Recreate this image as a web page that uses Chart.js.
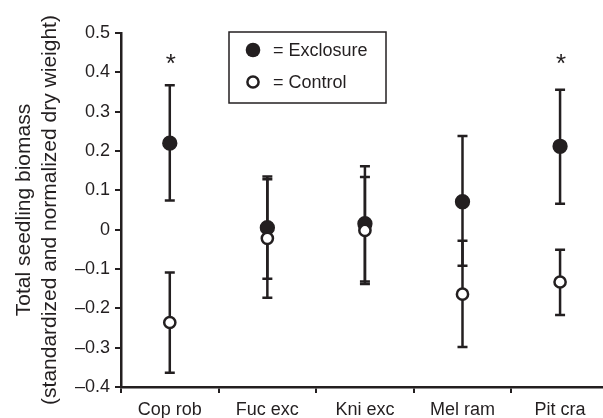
<!DOCTYPE html>
<html>
<head>
<meta charset="utf-8">
<script src="https://cdn.jsdelivr.net/npm/chart.js@4"></script>
<style>
  html, body { margin: 0; padding: 0; background: #fff; }
  #wrap { width: 603px; height: 418px; position: relative; }
</style>
</head>
<body>
<div id="wrap"><canvas id="chart"></canvas></div>
<script>
// ===== DATA =====
const species = ['Cop rob', 'Fuc exc', 'Kni exc', 'Mel ram', 'Pit cra'];

// Exclosure (filled circles): mean and error bar ends
const excMean = [0.220, 0.005, 0.015, 0.071, 0.212];
const excHigh = [0.367, 0.135, 0.161, 0.238, 0.356];
const excLow  = [0.074, -0.125, -0.132, -0.092, 0.066];

// Control (open circles)
const ctlMean = [-0.236, -0.022, -0.002, -0.164, -0.133];
const ctlHigh = [-0.109, 0.128, 0.134, -0.028, -0.051];
const ctlLow  = [-0.364, -0.173, -0.138, -0.298, -0.217];

// significance stars (value where the * sits, null = none)
const starAt = [0.44, null, null, null, 0.44];

const yTicks = [-0.4, -0.3, -0.2, -0.1, 0, 0.1, 0.2, 0.3, 0.4, 0.5];

const ink = '#231f20';
const FONT = 'Arial, "Liberation Sans", sans-serif';

function fmtTick(v) {
  if (Math.abs(v) < 1e-9) return '0';
  return (v < 0 ? '\u2013' : '') + Math.abs(v).toFixed(1);
}

// error bars + stars drawn through the chart's scales
const errorBars = {
  id: 'errorBars',
  beforeDatasetsDraw(chart) {
    const { ctx, scales: { x, y } } = chart;
    ctx.save();
    ctx.strokeStyle = ink;
    ctx.lineWidth = 2.5;
    [[excHigh, excLow], [ctlHigh, ctlLow]].forEach(([hi, lo]) => {
      hi.forEach((h, i) => {
        const px = x.getPixelForValue(i);
        const top = y.getPixelForValue(h);
        const bot = y.getPixelForValue(lo[i]);
        ctx.beginPath();
        ctx.moveTo(px, top); ctx.lineTo(px, bot);
        ctx.moveTo(px - 5, top); ctx.lineTo(px + 5, top);
        ctx.moveTo(px - 5, bot); ctx.lineTo(px + 5, bot);
        ctx.stroke();
      });
    });
    ctx.restore();
  },
  afterDatasetsDraw(chart) {
    const { ctx, scales: { x, y } } = chart;
    ctx.save();
    ctx.fillStyle = ink;
    ctx.font = '26px ' + FONT;
    ctx.textAlign = 'center';
    ctx.textBaseline = 'alphabetic';
    starAt.forEach((v, i) => {
      if (v == null) return;
      ctx.fillText('*', x.getPixelForValue(i) + 1, y.getPixelForValue(v) + 15);
    });
    ctx.restore();
  }
};

// boxed legend inside the plot area
const boxLegend = {
  id: 'boxLegend',
  afterDraw(chart) {
    const { ctx, chartArea } = chart;
    const left = chartArea.left + 108, top = chartArea.top - 1;
    const w = 157, h = 71;
    ctx.save();
    ctx.strokeStyle = ink;
    ctx.lineWidth = 1.5;
    ctx.strokeRect(left, top, w, h);
    ctx.font = '18px ' + FONT;
    ctx.fillStyle = ink;
    ctx.textBaseline = 'middle';
    ctx.textAlign = 'left';
    // filled
    ctx.beginPath();
    ctx.arc(left + 24, top + 18, 7.3, 0, Math.PI * 2);
    ctx.fill();
    ctx.fillText('= Exclosure', left + 44, top + 19);
    // open
    ctx.beginPath();
    ctx.arc(left + 24, top + 50, 5.6, 0, Math.PI * 2);
    ctx.fillStyle = '#fff';
    ctx.fill();
    ctx.lineWidth = 2.5;
    ctx.stroke();
    ctx.fillStyle = ink;
    ctx.fillText('= Control', left + 44, top + 51);
    ctx.restore();
  }
};

new Chart(document.getElementById('chart'), {
  type: 'scatter',
  data: {
    datasets: [
      {
        label: 'Exclosure',
        data: excMean.map((v, i) => ({ x: i, y: v })),
        pointRadius: 6.9,
        pointBorderWidth: 1.5,
        pointBackgroundColor: ink,
        pointBorderColor: ink,
        order: 2
      },
      {
        label: 'Control',
        data: ctlMean.map((v, i) => ({ x: i, y: v })),
        pointRadius: 5.6,
        pointBorderWidth: 2.5,
        pointBackgroundColor: '#fff',
        pointBorderColor: ink,
        order: 1
      }
    ]
  },
  options: {
    responsive: true,
    maintainAspectRatio: false,
    animation: false,
    layout: { autoPadding: false, padding: { top: 33, right: 0, left: 0, bottom: 0 } },
    plugins: {
      legend: { display: false },
      tooltip: { enabled: false }
    },
    scales: {
      x: {
        type: 'linear',
        min: -0.5,
        max: 4.44,
        afterBuildTicks: s => { s.ticks = species.map((_, i) => ({ value: i })); },
        afterFit: s => { s.height = 31; s.paddingLeft = 0; s.paddingRight = 0; },
        border: { color: ink, width: 2.5 },
        grid: { offset: true, drawOnChartArea: false, drawTicks: true, tickLength: 6, color: ink, lineWidth: 2 },
        ticks: {
          autoSkip: false,
          maxRotation: 0,
          padding: 6,
          color: ink,
          font: { family: FONT, size: 18 },
          callback: v => species[v]
        }
      },
      y: {
        min: -0.4,
        max: 0.5,
        afterBuildTicks: s => { s.ticks = yTicks.map(v => ({ value: v })); },
        afterFit: s => { s.width = 121; },
        border: { color: ink, width: 2.5 },
        grid: { drawOnChartArea: false, drawTicks: true, tickLength: 6, color: ink, lineWidth: 2 },
        ticks: {
          padding: 5,
          color: ink,
          font: { family: FONT, size: 18 },
          callback: fmtTick
        },
        title: {
          display: true,
          text: ['Total seedling biomass', '(standardized and normalized dry wieight)'],
          color: ink,
          font: { family: FONT, size: 21, lineHeight: 1.24 },
          padding: { top: 11, bottom: 0 }
        }
      }
    }
  },
  plugins: [errorBars, boxLegend]
});
</script>
</body>
</html>
